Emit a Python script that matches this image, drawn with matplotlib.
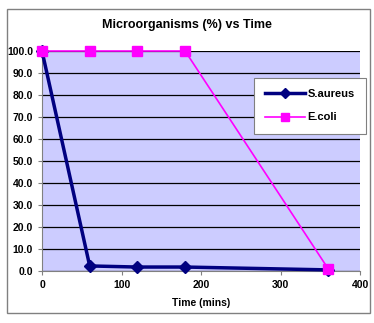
import matplotlib
matplotlib.use("Agg")
import matplotlib.pyplot as plt
from matplotlib.patches import Rectangle

time_mins = [0, 60, 120, 180, 360]
s_aureus = [100.0, 2.3, 1.8, 1.8, 0.5]
e_coli = [100.0, 100.0, 100.0, 100.0, 1.0]

plt.rcParams["font.family"] = ["Liberation Sans", "DejaVu Sans"]
plt.rcParams["font.weight"] = "bold"

fig = plt.figure(figsize=(3.74, 3.23), dpi=100)
fig.patches.append(Rectangle((7 / 374, 10 / 323), 363 / 374, 304 / 323,
                             transform=fig.transFigure, fill=False,
                             edgecolor="#808080", linewidth=1.0))
ax = fig.add_axes([42 / 374, 52 / 323, 318 / 374, 220 / 323])
ax.set_facecolor("#CCCCFF")

ax.plot(time_mins, s_aureus, color="#000080", linewidth=2.5, marker="D",
        markersize=6, label="S.aureus", zorder=3, clip_on=False)
ax.plot(time_mins, e_coli, color="#FF00FF", linewidth=1.2, marker="s",
        markersize=7, label="E.coli", zorder=4, clip_on=False)

ax.set_xlim(0, 400)
ax.set_ylim(0, 100)
ax.set_xticks([0, 100, 200, 300, 400])
ax.set_yticks(range(0, 101, 10))
ax.set_yticklabels([f"{v:.1f}" for v in range(0, 101, 10)])
ax.grid(axis="y", color="black", linewidth=0.9)
ax.set_axisbelow(True)
for side in ("top", "right"):
    ax.spines[side].set_visible(False)
ax.spines["left"].set_color("#808080")
ax.spines["bottom"].set_color("#808080")
ax.tick_params(labelsize=7.5, length=3, color="#808080")
ax.set_xlabel("Time (mins)", fontsize=7.5, fontweight="bold", labelpad=6)

fig.text(0.5, 1 - 25 / 323, "Microorganisms (%) vs Time", ha="center",
         va="center", fontsize=9, fontweight="bold")

leg = fig.legend(loc="upper left", bbox_to_anchor=(254 / 374, 1 - 78 / 323),
                 fancybox=False, edgecolor="#808080", framealpha=1,
                 fontsize=8, handlelength=3.6, labelspacing=1.2,
                 borderpad=1.0, handletextpad=0.2, borderaxespad=0,
                 markerscale=0.8)
leg.get_frame().set_linewidth(0.8)
for text in leg.get_texts():
    text.set_fontweight("bold")

fig.savefig("out.png", dpi=100)
